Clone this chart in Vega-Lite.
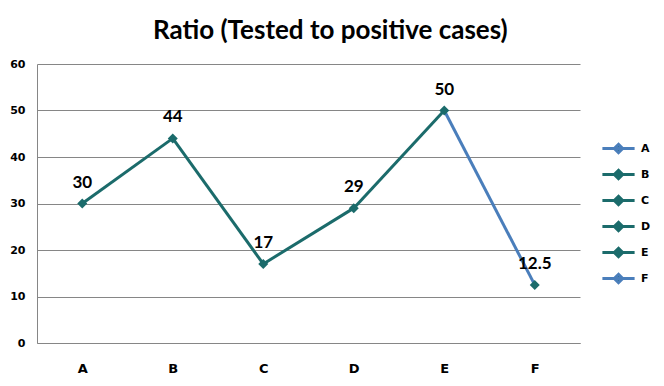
{
  "$schema": "https://vega.github.io/schema/vega-lite/v6.json",
  "width": 543,
  "height": 279,
  "padding": {"left": 9, "top": 18, "right": 10, "bottom": 5},
  "background": "white",
  "title": {
    "text": "Ratio (Tested to positive cases)",
    "font": "Lato",
    "fontSize": 26,
    "fontWeight": "bold",
    "color": "#000000",
    "offset": 14,
    "anchor": "middle",
    "frame": "bounds"
  },
  "config": {
    "view": {"stroke": null},
    "font": "Lato"
  },
  "datasets": {
    "points": [
      {"cat": "A", "value": 30},
      {"cat": "B", "value": 44},
      {"cat": "C", "value": 17},
      {"cat": "D", "value": 29},
      {"cat": "E", "value": 50},
      {"cat": "F", "value": 12.5}
    ],
    "segments": [
      {"seg": "B", "cat": "A", "value": 30},
      {"seg": "B", "cat": "B", "value": 44},
      {"seg": "C", "cat": "B", "value": 44},
      {"seg": "C", "cat": "C", "value": 17},
      {"seg": "D", "cat": "C", "value": 17},
      {"seg": "D", "cat": "D", "value": 29},
      {"seg": "E", "cat": "D", "value": 29},
      {"seg": "E", "cat": "E", "value": 50},
      {"seg": "F", "cat": "E", "value": 50},
      {"seg": "F", "cat": "F", "value": 12.5}
    ]
  },
  "encoding": {
    "x": {
      "field": "cat",
      "type": "ordinal",
      "scale": {"type": "point", "padding": 0.5, "domain": ["A", "B", "C", "D", "E", "F"]},
      "axis": {
        "title": null,
        "labelAngle": 0,
        "labelFont": "DejaVu Sans",
        "labelFontWeight": "bold",
        "labelFontSize": 13,
        "labelColor": "#000000",
        "labelPadding": 19,
        "ticks": false,
        "domainColor": "#868686",
        "domainWidth": 1,
        "grid": false
      }
    },
    "y": {
      "field": "value",
      "type": "quantitative",
      "scale": {"domain": [0, 60], "nice": false},
      "axis": {
        "title": null,
        "values": [0, 10, 20, 30, 40, 50, 60],
        "labelFont": "DejaVu Sans",
        "labelFontWeight": "bold",
        "labelFontSize": 11,
        "labelColor": "#000000",
        "labelPadding": 12,
        "ticks": false,
        "domainColor": "#868686",
        "domainWidth": 1,
        "grid": true,
        "gridColor": "#868686",
        "gridWidth": 1
      }
    }
  },
  "layer": [
    {
      "data": {"name": "segments"},
      "mark": {"type": "line", "strokeWidth": 3},
      "encoding": {
        "detail": {"field": "seg"},
        "stroke": {
          "field": "seg",
          "type": "nominal",
          "scale": {
            "domain": ["A", "B", "C", "D", "E", "F"],
            "range": ["#4A7EBB", "#1B6B6B", "#1B6B6B", "#1B6B6B", "#1B6B6B", "#4A7EBB"]
          },
          "legend": {
            "title": null,
            "orient": "none",
            "legendX": 566,
            "legendY": 69,
            "symbolType": "M-1.15,0H1.15M0,-0.3L0.3,0L0,0.3L-0.3,0Z",
            "symbolSize": 784,
            "symbolStrokeWidth": 3,
            "symbolFillColor": "#1B6B6B",
            "symbolOpacity": 1,
            "labelFont": "DejaVu Sans",
            "labelFontWeight": "bold",
            "labelFontSize": 11,
            "labelColor": "#000000",
            "labelOffset": 7,
            "rowPadding": 0,
            "padding": 0,
            "encode": {"symbols": {"update": {"fill": {"value": "#1B6B6B"}}}}
          }
        }
      }
    },
    {
      "data": {"name": "points"},
      "mark": {"type": "point", "shape": "diamond", "filled": true, "size": 100, "color": "#1B6B6B", "opacity": 1}
    },
    {
      "data": {"name": "points"},
      "mark": {"type": "text", "dy": -21, "font": "Lato", "fontSize": 17, "fontWeight": "bold", "color": "#000000"},
      "encoding": {
        "text": {"field": "value", "type": "quantitative"}
      }
    }
  ]
}
